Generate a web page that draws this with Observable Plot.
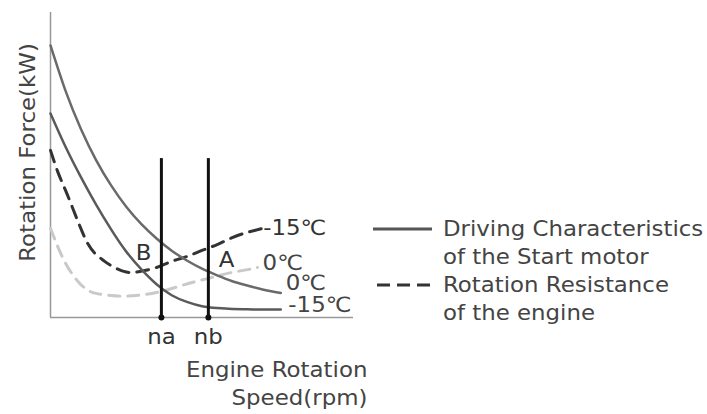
<!DOCTYPE html>
<html><head><meta charset="utf-8">
<script src="https://cdn.jsdelivr.net/npm/d3@7"></script>
<script src="https://cdn.jsdelivr.net/npm/@observablehq/plot@0.6"></script>
<style>
body{margin:0;background:#fff}
#wrap{position:relative;width:707px;height:414px;font-family:"DejaVu Sans",Verdana,sans-serif;color:#444}
.leg{position:absolute;left:443px;font-size:21px;line-height:28px;white-space:nowrap;color:#444;transform:scaleX(1.088);transform-origin:0 0}
.sw{position:absolute}
</style>
</head><body>
<div id="wrap"></div>
<script>
// Driving characteristics of the start motor (solid)
const drivingX = [0,5,10,15,20,25,30,35,40,45,50,55,60,65,70,76];
const driving0C = [89.2,74.2,61.9,51.7,43.3,36.3,30.6,25.9,21.9,18.7,16.0,13.8,11.9,10.5,9.2,8.0];
const drivingM15C = [66.9,55.9,46.1,37.1,28.9,21.6,15.8,10.9,7.3,5.1,3.7,3.1,2.8,2.7,2.6,2.6];
// Rotation resistance of the engine (dashed)
const resistM15X = [0,2.5,5,7.5,10,12.5,15,17.5,20,25,30,35,40,45,50,55,60,65,70];
const resistM15C = [54.8,47.5,41.6,35.4,29.2,23.9,20.7,18.7,17.0,14.9,15.2,16.4,18.4,20.0,22.0,23.9,26.2,27.9,29.2];
const resist0X = [0,2.5,5,7.5,10,12.5,15,20,25,30,35,40,45,50,55,60,65,68.3];
const resist0C = [29.2,23.0,17.7,13.8,10.8,8.9,7.9,7.2,7.0,7.4,8.2,9.5,11.0,12.3,13.6,14.8,15.7,16.4];
// engine speeds
const speedNames = ["na","nb"];
const speedX = [36.6,52.1];
const speedTop = 52.1;
// curve labels
const curveLabels = ["-15\u2103","0\u2103","0\u2103","-15\u2103"];
const curveLabelX = [70.2,70.0,77.6,78.5];
const curveLabelY = [29.2,17.8,11.1,3.9];
const curveLabelColor = ["#333","#444","#444","#444"];
// point labels
const pointNames = ["B","A"];
const pointX = [30.7,58.1];
const pointY = [21.0,18.7];
// axis titles
const yTitle = "Rotation Force(kW)";
const xTitle = ["Engine Rotation","Speed(rpm)"];

const toRows = (xs, ys) => xs.map((x,i)=>({x, y: ys[i]}));
const speeds = speedNames.map((n,i)=>({n, x: speedX[i]}));
const cLabels = curveLabels.map((t,i)=>({t, x: curveLabelX[i], y: curveLabelY[i], c: curveLabelColor[i]}));
const pLabels = pointNames.map((t,i)=>({t, x: pointX[i], y: pointY[i]}));

const chart = Plot.plot({
  width: 707, height: 414,
  marginLeft: 50, marginRight: 354, marginTop: 12, marginBottom: 97,
  x: {domain: [0,100], axis: null},
  y: {domain: [0,100], axis: null},
  style: {fontFamily: '"DejaVu Sans", Verdana, sans-serif', background: "#fff", overflow: "visible"},
  marks: [
    Plot.ruleX([0], {y1: 0, y2: 100, stroke: "#999", strokeWidth: 1.5}),
    Plot.ruleY([0], {x1: 0, x2: 100, stroke: "#999", strokeWidth: 1.5}),
    Plot.line(toRows(resist0X, resist0C), {x: "x", y: "y", curve: "natural", stroke: "#c9c9c9", strokeWidth: 3, strokeDasharray: "11,8"}),
    Plot.line(toRows(resistM15X, resistM15C), {x: "x", y: "y", curve: "natural", stroke: "#333", strokeWidth: 3, strokeDasharray: "12,8"}),
    Plot.line(toRows(drivingX, driving0C), {x: "x", y: "y", curve: "natural", stroke: "#6a6a6a", strokeWidth: 2.5}),
    Plot.line(toRows(drivingX, drivingM15C), {x: "x", y: "y", curve: "natural", stroke: "#5a5a5a", strokeWidth: 2.5}),
    Plot.ruleX(speeds, {x: "x", y1: 0, y2: speedTop, stroke: "#111", strokeWidth: 3}),
    Plot.dot(speeds, {x: "x", y: 0, r: 3, fill: "#111"}),
    Plot.text(speeds, {x: "x", y: 0, text: "n", dy: 20, fontSize: 21, fill: "#333"}),
    Plot.text(cLabels, {x: "x", y: "y", text: "t", fill: "c", textAnchor: "start", fontSize: 21}),
    Plot.text(pLabels, {x: "x", y: "y", text: "t", fontSize: 21, fill: "#333"}),
    Plot.text([yTitle], {x: -7.3, y: 54.1, text: d => d, rotate: -90, fontSize: 21, fill: "#444"}),
    Plot.text([xTitle[0]], {x: 104.6, y: -17.2, text: d => d, textAnchor: "end", fontSize: 21, fill: "#444"}),
    Plot.text([xTitle[1]], {x: 104.6, y: -26.4, text: d => d, textAnchor: "end", fontSize: 21, fill: "#444"})
  ]
});
const wrap = document.getElementById("wrap");
wrap.appendChild(chart);
// reference lettering is set wider than DejaVu Sans: stretch horizontally
chart.querySelectorAll("text").forEach(t => {
  const L = t.getComputedTextLength();
  if (L > 0) { t.setAttribute("textLength", (L * 1.09).toFixed(1)); t.setAttribute("lengthAdjust", "spacingAndGlyphs"); }
});

// legend
const legendItems = [
  {lines: ["Driving Characteristics","of the Start motor"], dash: null, top: 215},
  {lines: ["Rotation Resistance","of the engine"], dash: "13,7", top: 271}
];
for (const it of legendItems) {
  const d = document.createElement("div");
  d.className = "leg";
  d.style.top = it.top + "px";
  d.innerHTML = it.lines.join("<br>");
  wrap.appendChild(d);
  const s = document.createElementNS("http://www.w3.org/2000/svg","svg");
  s.setAttribute("class","sw");
  s.setAttribute("width","62"); s.setAttribute("height","6");
  s.style.left = "372px"; s.style.top = (it.top + 11) + "px";
  const l = document.createElementNS("http://www.w3.org/2000/svg","line");
  l.setAttribute("x1", it.dash ? 5 : 1); l.setAttribute("x2", 60); l.setAttribute("y1", 3); l.setAttribute("y2", 3);
  l.setAttribute("stroke", it.dash ? "#333" : "#555"); l.setAttribute("stroke-width", 3);
  if (it.dash) l.setAttribute("stroke-dasharray", it.dash);
  s.appendChild(l);
  wrap.appendChild(s);
}
</script>
</body></html>
